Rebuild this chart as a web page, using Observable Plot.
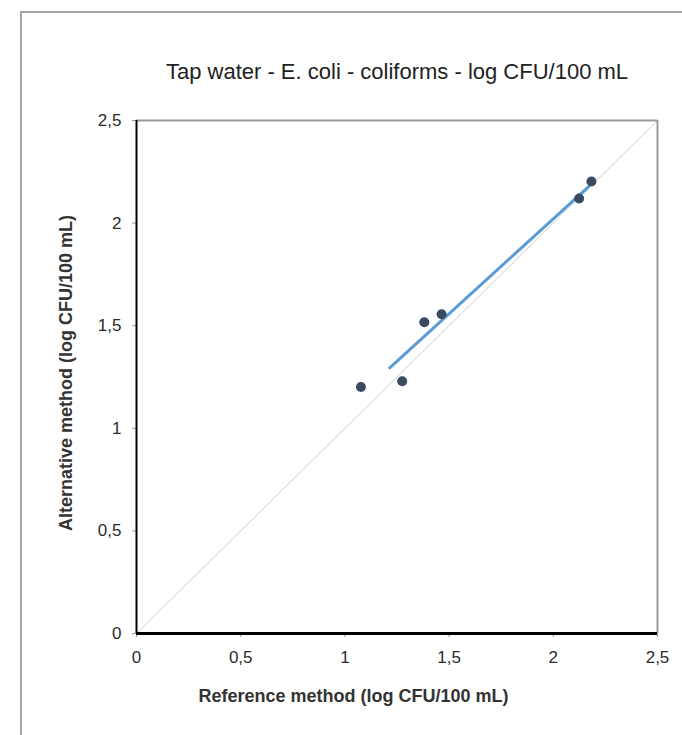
<!DOCTYPE html>
<html>
<head>
<meta charset="utf-8">
<script src="https://cdn.jsdelivr.net/npm/d3@7"></script>
<script src="https://cdn.jsdelivr.net/npm/@observablehq/plot@0.6"></script>
<style>
  html, body { margin: 0; padding: 0; background: #fff; }
  #wrap { position: relative; width: 682px; height: 735px; overflow: hidden; font-family: "Liberation Sans", Arial, sans-serif; }
  #frame { position: absolute; left: 20px; top: 11px; width: 700px; height: 760px; border: 2px solid #a6a6a6; box-sizing: border-box; }
  #chart { position: absolute; left: 0; top: 0; }
</style>
</head>
<body>
<div id="wrap"><div id="frame"></div><div id="chart"></div></div>
<script>
// Paired counts (log CFU/100 mL): reference method vs alternative method
const referenceValues   = [1.077, 1.275, 1.381, 1.464, 2.124, 2.183];
const alternativeValues = [1.201, 1.229, 1.517, 1.556, 2.120, 2.203];

// Least-squares fit segment endpoints
const fitX = [1.215, 2.170];
const fitY = [1.295, 2.178];

// Line of equality
const identity = [0, 2.5];

const axisTicks = [0, 0.5, 1, 1.5, 2, 2.5];
const titleText = "Tap water - E. coli - coliforms - log CFU/100 mL";
const xTitle = "Reference method (log CFU/100 mL)";
const yTitle = "Alternative method (log CFU/100 mL)";

const points = referenceValues.map((x, i) => ({x, y: alternativeValues[i]}));
const fit = fitX.map((x, i) => ({x, y: fitY[i]}));
const comma = d => String(d).replace(".", ",");

const chart = Plot.plot({
  width: 682,
  height: 735,
  marginLeft: 136,
  marginRight: 25,
  marginTop: 120,
  marginBottom: 102,
  style: {fontFamily: "'Liberation Sans', Arial, sans-serif", background: "transparent", overflow: "visible"},
  x: {domain: [0, 2.5]},
  y: {domain: [0, 2.5]},
  marks: [
    Plot.line(identity, {x: d => d, y: d => d, stroke: "#cfcfcf", strokeWidth: 1}),
    Plot.ruleY([2.5], {stroke: "#9a9a9a", strokeWidth: 2}),
    Plot.ruleX([2.5], {stroke: "#9a9a9a", strokeWidth: 2}),
    Plot.axisX({ticks: axisTicks, tickFormat: comma, tickSize: 4, tickPadding: 13, stroke: "#999", fontSize: 17, color: "#2b2b2b", label: null}),
    Plot.axisY({ticks: axisTicks, tickFormat: comma, tickSize: 4, tickPadding: 11, stroke: "#999", fontSize: 17, color: "#2b2b2b", label: null}),
    Plot.ruleX([0], {stroke: "#000", strokeWidth: 2}),
    Plot.ruleY([0], {stroke: "#000", strokeWidth: 3}),
    Plot.line(fit, {x: "x", y: "y", stroke: "#5b9bd5", strokeWidth: 3}),
    Plot.dot(points, {x: "x", y: "y", r: 5, fill: "#3a4a60", stroke: "none"}),
    Plot.text([titleText], {text: d => d, frameAnchor: "top", lineAnchor: "bottom", dy: -42, fontSize: 22, fill: "#222"}),
    Plot.text([xTitle], {text: d => d, frameAnchor: "bottom-left", textAnchor: "middle", lineAnchor: "bottom", dx: 217, dy: 68, fontSize: 18, fontWeight: "bold", fill: "#333"}),
    Plot.text([yTitle], {text: d => d, frameAnchor: "left", textAnchor: "middle", dx: -70, dy: -4, rotate: -90, fontSize: 18, fontWeight: "bold", fill: "#333"})
  ]
});
document.getElementById("chart").appendChild(chart);
</script>
</body>
</html>
